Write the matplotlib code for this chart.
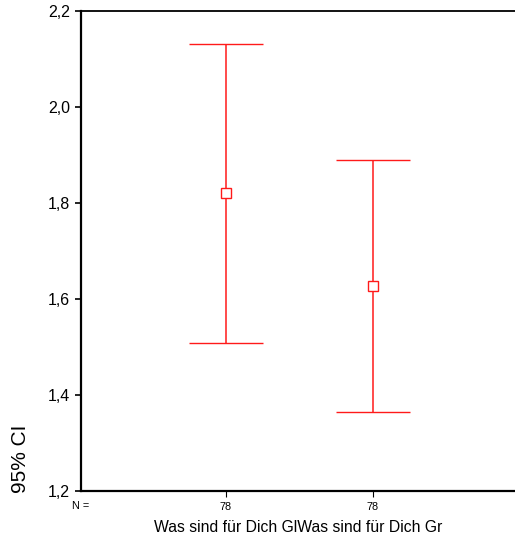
import numpy as np
import matplotlib
matplotlib.use("Agg")
from matplotlib import pyplot as plt
from matplotlib.ticker import FuncFormatter

plt.rcParams['font.family'] = ['Liberation Sans', 'DejaVu Sans']

# Daten
groups = [1, 2]
means = [1.821, 1.627]
ci_low = [1.509, 1.365]
ci_high = [2.131, 1.890]
n_labels = ['78', '78']
y_ticks = [1.2, 1.4, 1.6, 1.8, 2.0, 2.2]
x_title = 'Was sind für Dich GlWas sind für Dich Gr'

red = '#ff1a1a'

fig = plt.figure(figsize=(5.15, 5.47), dpi=100)
ax = fig.add_axes([81 / 515, 56 / 547, 434 / 515, 480 / 547])

yerr = np.array([np.array(means) - np.array(ci_low),
                 np.array(ci_high) - np.array(means)])
ax.errorbar(groups, means, yerr=yerr, fmt='s', color=red, mfc='white',
            mec=red, ms=6.8, mew=1.0, elinewidth=1.1, capsize=26.6,
            capthick=1.3, ecolor=red)

ax.set_ylim(1.2, 2.2)
ax.set_xlim(0.014, 2.966)
ax.set_yticks(y_ticks)
ax.yaxis.set_major_formatter(FuncFormatter(lambda v, p: f'{v:.1f}'.replace('.', ',')))
ax.tick_params(axis='y', labelsize=11.5, length=4, width=1.2, pad=4)
ax.set_xticks(groups, n_labels)
ax.tick_params(axis='x', labelsize=7.8, length=4, width=0.8, pad=4)

for s in ['left', 'bottom']:
    ax.spines[s].set_linewidth(1.6)
ax.spines['top'].set_linewidth(1.3)
ax.spines['right'].set_visible(False)

fig.text(72 / 515, 1 - 506 / 547, 'N =', fontsize=7.8, ha='left', va='center')
fig.text(298 / 515, 1 - 527 / 547, x_title, fontsize=11.3, ha='center', va='center')
fig.text(20 / 515, 1 - 493 / 547, '95% CI', fontsize=15, rotation=90,
         ha='center', va='bottom')

fig.savefig('out.png', dpi=100)
